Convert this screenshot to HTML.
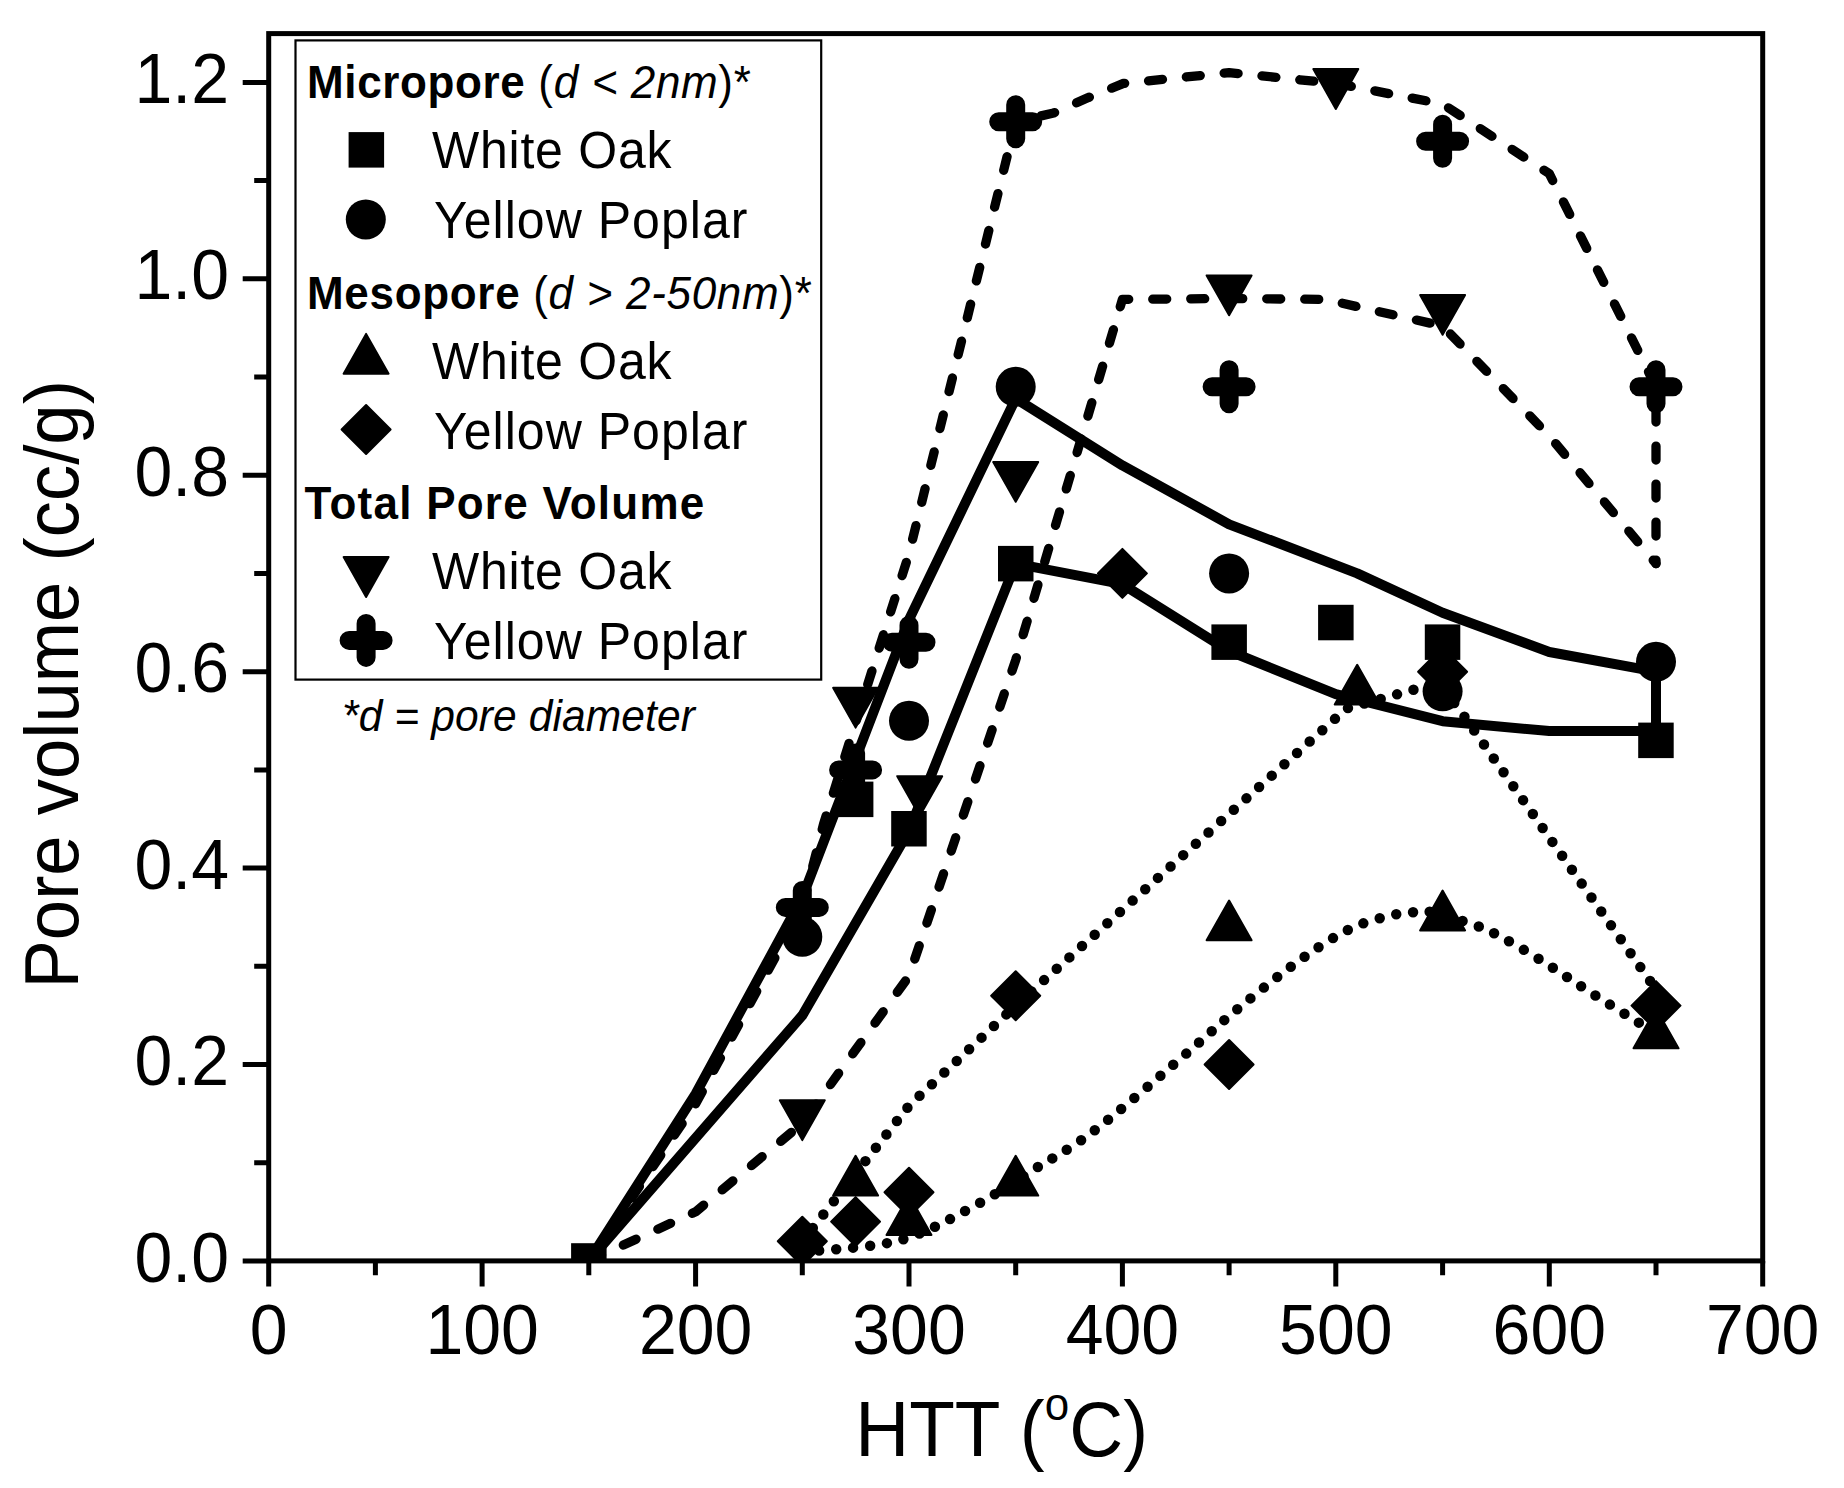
<!DOCTYPE html>
<html lang="en"><head><meta charset="utf-8"><title>Pore volume vs HTT</title>
<style>
html,body{margin:0;padding:0;background:#fff;}
body{width:1844px;height:1488px;overflow:hidden;}
svg{display:block;}
text{font-family:"Liberation Sans",Arial,sans-serif;fill:#000;}
.tk{font-size:68px;}
.ti{font-size:74.7px;}
.ty{font-size:72.5px;}
.fn{font-size:42.5px;font-style:italic;}
.lh{font-size:44px;font-weight:bold;}
.li{font-size:50px;}
.ax{stroke:#000;stroke-width:5;fill:none;}
.so{stroke:#000;stroke-width:10;fill:none;stroke-linejoin:round;stroke-linecap:butt;}
.da{stroke:#000;stroke-width:9.3;fill:none;stroke-linejoin:round;stroke-linecap:round;stroke-dasharray:14 24;}
.do{stroke:#000;stroke-width:10.5;fill:none;stroke-linejoin:round;stroke-linecap:round;stroke-dasharray:0 17;}
.mk{fill:#000;stroke:#000;stroke-width:2;stroke-linejoin:round;}
.pl{stroke:#000;stroke-width:19;stroke-linecap:round;fill:none;}
</style></head><body>
<svg width="1844" height="1488" viewBox="0 0 1844 1488">
<rect x="0" y="0" width="1844" height="1488" fill="#fff"/>
<g id="legend">
<rect x="295.5" y="40.4" width="525.7" height="639.2" fill="#fff" stroke="#000" stroke-width="2.2"/>
<text class="lh" transform="translate(307 98) scale(1 1.04)" textLength="443.8" lengthAdjust="spacing">Micropore <tspan font-weight="normal">(<tspan font-style="italic">d &lt; 2nm</tspan>)*</tspan></text>
<rect x="348.6" y="132.1" width="35.5" height="35.5" fill="#000"/>
<text class="li" transform="translate(432 168.2) scale(1 1.04)" textLength="239.5" lengthAdjust="spacing">White Oak</text>
<circle cx="365.8" cy="219.5" r="20" fill="#000"/>
<text class="li" transform="translate(434 237.9) scale(1 1.04)" textLength="313.4" lengthAdjust="spacing">Yellow Poplar</text>
<text class="lh" transform="translate(307 309.4) scale(1 1.04)" textLength="504.8" lengthAdjust="spacing">Mesopore <tspan font-weight="normal">(<tspan font-style="italic">d &gt; 2-50nm</tspan>)*</tspan></text>
<path class="mk" d="M366.1 333.9L388.6 373.7L343.6 373.7Z"/>
<text class="li" transform="translate(432 379) scale(1 1.04)" textLength="239.5" lengthAdjust="spacing">White Oak</text>
<path class="mk" d="M366.1 405L390.6 429.5L366.1 454L341.6 429.5Z"/>
<text class="li" transform="translate(434 449.4) scale(1 1.04)" textLength="313.4" lengthAdjust="spacing">Yellow Poplar</text>
<text class="lh" transform="translate(304.6 518.8) scale(1 1.04)" textLength="399.7" lengthAdjust="spacing">Total Pore Volume</text>
<path class="mk" d="M343.6 557.1L388.6 557.1L366.1 596.9Z"/>
<text class="li" transform="translate(432 589.1) scale(1 1.04)" textLength="239.5" lengthAdjust="spacing">White Oak</text>
<path class="pl" d="M349.1 640.4H383.1 M366.1 623.4V657.4"/>
<text class="li" transform="translate(434 658.8) scale(1 1.04)" textLength="313.4" lengthAdjust="spacing">Yellow Poplar</text>
<text class="fn" transform="translate(342 730.5) scale(1 1.04)" textLength="352.8" lengthAdjust="spacing">*d = pore diameter</text>
</g>
<clipPath id="cp"><rect x="268.7" y="33.6" width="1494" height="1227.3"/></clipPath>
<g clip-path="url(#cp)">
<g id="lines">
<path class="do" d="M802.3 1241.3L909 1105.7L1015.7 1005.6L1346.5 708.5L1411.6 690.3L1438.3 683.4L1459.4 709.5L1656 989.4"/>
<path class="do" d="M802.3 1251.1C807.9 1250.8 822 1250.6 836 1249.3C850 1248 872.5 1245.9 886.1 1243.3C899.8 1240.8 907.6 1238 917.9 1234.1C928.3 1230.2 936.1 1226.4 948.5 1219.9C960.9 1213.5 978 1204.1 992.4 1195.6C1006.8 1187.1 1018.2 1179.5 1034.9 1168.9C1051.6 1158.2 1068 1150.5 1092.7 1131.8C1117.5 1113 1159.8 1076.2 1183.2 1056.2C1206.7 1036.3 1216.3 1026.7 1233.6 1012.2C1251 997.8 1271.4 981.3 1287.4 969.3C1303.4 957.3 1317.5 947.5 1329.7 940.1C1341.9 932.6 1350.3 928.6 1360.6 924.4C1370.9 920.3 1383.4 917.2 1391.5 915.3C1399.7 913.4 1403.5 913.6 1409.5 912.9C1415.5 912.3 1416.8 909.5 1427.4 911.4C1438 913.3 1460.1 919.9 1472.9 924.4C1485.6 928.9 1491.4 931.8 1503.8 938.4C1516.2 945 1533 955.3 1547.1 964.1C1561.3 972.9 1574.3 982 1588.5 991.1C1602.8 1000.2 1621.3 1011.7 1632.5 1018.7C1643.7 1025.7 1652.1 1030.7 1656 1033.1"/>
<path class="da" d="M588.8 1260.9L695.6 1103.8L802.3 907.4L823.6 823.9L909 553.8L1015.7 121.7L1053.7 113L1088.3 97.6L1123.5 83.4L1229.1 72.6L1335.8 83.4L1442.6 104L1549.3 173.7L1656 386.8L1656 563.6"/>
<path class="da" d="M588.8 1260.9L695.6 1211.8L802.3 1123.4L909 976.1L1015.7 659.9L1122.4 299.4L1229.1 298.5L1325.2 299.4L1442.6 326L1549.3 436L1656 563.6"/>
<path class="so" d="M588.8 1260.9L695.6 1093.9L802.3 897.5L909 619.6L1015.7 398.6L1122.4 465.4L1229.1 524.3L1357.2 573.4L1442.6 612.7L1549.3 652L1656 671.7L1656 730.6"/>
<path class="so" d="M588.8 1260.9L802.3 1015.4L909 830.7L1015.7 563.6L1122.4 584.2L1229.1 651L1335.8 694.2L1442.6 721.2L1549.3 731.1L1656 731.1"/>
</g>
<g id="points">
<rect x="571.1" y="1243.2" width="35.5" height="35.5" fill="#000"/>
<rect x="837.9" y="781.6" width="35.5" height="35.5" fill="#000"/>
<rect x="891.2" y="811" width="35.5" height="35.5" fill="#000"/>
<rect x="998" y="545.9" width="35.5" height="35.5" fill="#000"/>
<rect x="1211.4" y="624.4" width="35.5" height="35.5" fill="#000"/>
<rect x="1318.1" y="604.8" width="35.5" height="35.5" fill="#000"/>
<rect x="1424.8" y="624.4" width="35.5" height="35.5" fill="#000"/>
<rect x="1638.2" y="722.6" width="35.5" height="35.5" fill="#000"/>
<circle cx="802.3" cy="936.8" r="20" fill="#000"/>
<circle cx="909" cy="720.8" r="20" fill="#000"/>
<circle cx="1015.7" cy="386.8" r="20" fill="#000"/>
<circle cx="1229.1" cy="573.4" r="20" fill="#000"/>
<circle cx="1442.6" cy="691.3" r="20" fill="#000"/>
<circle cx="1656" cy="661.8" r="20" fill="#000"/>
<path class="mk" d="M855.6 1155.8L878.1 1195.6L833.1 1195.6Z"/>
<path class="mk" d="M909 1195.1L931.5 1234.9L886.5 1234.9Z"/>
<path class="mk" d="M1015.7 1155.8L1038.2 1195.6L993.2 1195.6Z"/>
<path class="mk" d="M1229.1 900.5L1251.6 940.3L1206.6 940.3Z"/>
<path class="mk" d="M1357.2 664.8L1379.7 704.6L1334.7 704.6Z"/>
<path class="mk" d="M1442.6 890.6L1465.1 930.4L1420.1 930.4Z"/>
<path class="mk" d="M1656 1008.5L1678.5 1048.3L1633.5 1048.3Z"/>
<path class="mk" d="M802.3 1216.8L826.8 1241.3L802.3 1265.8L777.8 1241.3Z"/>
<path class="mk" d="M855.6 1197.1L880.1 1221.6L855.6 1246.1L831.1 1221.6Z"/>
<path class="mk" d="M909 1167.7L933.5 1192.2L909 1216.7L884.5 1192.2Z"/>
<path class="mk" d="M1015.7 971.2L1040.2 995.7L1015.7 1020.2L991.2 995.7Z"/>
<path class="mk" d="M1122.4 548.9L1146.9 573.4L1122.4 597.9L1097.9 573.4Z"/>
<path class="mk" d="M1229.1 1040L1253.6 1064.5L1229.1 1089L1204.6 1064.5Z"/>
<path class="mk" d="M1442.6 647.2L1467.1 671.7L1442.6 696.2L1418.1 671.7Z"/>
<path class="mk" d="M1656 981.1L1680.5 1005.6L1656 1030.1L1631.5 1005.6Z"/>
<path class="mk" d="M779.8 1100.3L824.8 1100.3L802.3 1140.1Z"/>
<path class="mk" d="M833.1 687.8L878.1 687.8L855.6 727.6Z"/>
<path class="mk" d="M897.2 776.2L942.2 776.2L919.7 816Z"/>
<path class="mk" d="M993.2 462L1038.2 462L1015.7 501.8Z"/>
<path class="mk" d="M1206.6 275.4L1251.6 275.4L1229.1 315.2Z"/>
<path class="mk" d="M1313.3 69.1L1358.3 69.1L1335.8 108.9Z"/>
<path class="mk" d="M1420.1 295L1465.1 295L1442.6 334.8Z"/>
<path class="pl" d="M785.3 907.4H819.3 M802.3 890.4V924.4"/>
<path class="pl" d="M838.6 769.9H872.6 M855.6 752.9V786.9"/>
<path class="pl" d="M892 642.2H926 M909 625.2V659.2"/>
<path class="pl" d="M998.7 121.7H1032.7 M1015.7 104.7V138.7"/>
<path class="pl" d="M1212.1 386.8H1246.1 M1229.1 369.8V403.8"/>
<path class="pl" d="M1425.6 141.3H1459.6 M1442.6 124.3V158.3"/>
<path class="pl" d="M1639 386.8H1673 M1656 369.8V403.8"/>
</g>
</g>
<g id="axes">
<rect class="ax" x="268.7" y="33.6" width="1494" height="1227.3"/>
<path class="ax" d="M268.7 1260.9v25.7M375.4 1260.9v14.3M482.1 1260.9v25.7M588.8 1260.9v14.3M695.6 1260.9v25.7M802.3 1260.9v14.3M909 1260.9v25.7M1015.7 1260.9v14.3M1122.4 1260.9v25.7M1229.1 1260.9v14.3M1335.8 1260.9v25.7M1442.6 1260.9v14.3M1549.3 1260.9v25.7M1656 1260.9v14.3M1762.7 1260.9v25.7M268.7 1260.9h-26M268.7 1162.7h-14.5M268.7 1064.5h-26M268.7 966.3h-14.5M268.7 868.1h-26M268.7 769.9h-14.5M268.7 671.7h-26M268.7 573.4h-14.5M268.7 475.2h-26M268.7 377h-14.5M268.7 278.8h-26M268.7 180.6h-14.5M268.7 82.4h-26"/>
<text class="tk" transform="translate(268.7 1354.4) scale(1 1.04)" text-anchor="middle">0</text>
<text class="tk" transform="translate(482.1 1354.4) scale(1 1.04)" text-anchor="middle">100</text>
<text class="tk" transform="translate(695.6 1354.4) scale(1 1.04)" text-anchor="middle">200</text>
<text class="tk" transform="translate(909 1354.4) scale(1 1.04)" text-anchor="middle">300</text>
<text class="tk" transform="translate(1122.4 1354.4) scale(1 1.04)" text-anchor="middle">400</text>
<text class="tk" transform="translate(1335.8 1354.4) scale(1 1.04)" text-anchor="middle">500</text>
<text class="tk" transform="translate(1549.3 1354.4) scale(1 1.04)" text-anchor="middle">600</text>
<text class="tk" transform="translate(1762.7 1354.4) scale(1 1.04)" text-anchor="middle">700</text>
<text class="tk" transform="translate(229 1281.5) scale(1 1.04)" text-anchor="end">0.0</text>
<text class="tk" transform="translate(229 1085.1) scale(1 1.04)" text-anchor="end">0.2</text>
<text class="tk" transform="translate(229 888.7) scale(1 1.04)" text-anchor="end">0.4</text>
<text class="tk" transform="translate(229 692.3) scale(1 1.04)" text-anchor="end">0.6</text>
<text class="tk" transform="translate(229 495.8) scale(1 1.04)" text-anchor="end">0.8</text>
<text class="tk" transform="translate(229 299.4) scale(1 1.04)" text-anchor="end">1.0</text>
<text class="tk" transform="translate(229 103) scale(1 1.04)" text-anchor="end">1.2</text>
<text class="ti" transform="translate(855.3 1455.8) scale(1 1.04)">HTT (<tspan font-size="44" dy="-34">o</tspan><tspan dy="34">C)</tspan></text>
<text class="ty" transform="translate(77.6 988.5) rotate(-90) scale(1 1.04)">Pore volume (cc/g)</text>
</g>
</svg></body></html>
